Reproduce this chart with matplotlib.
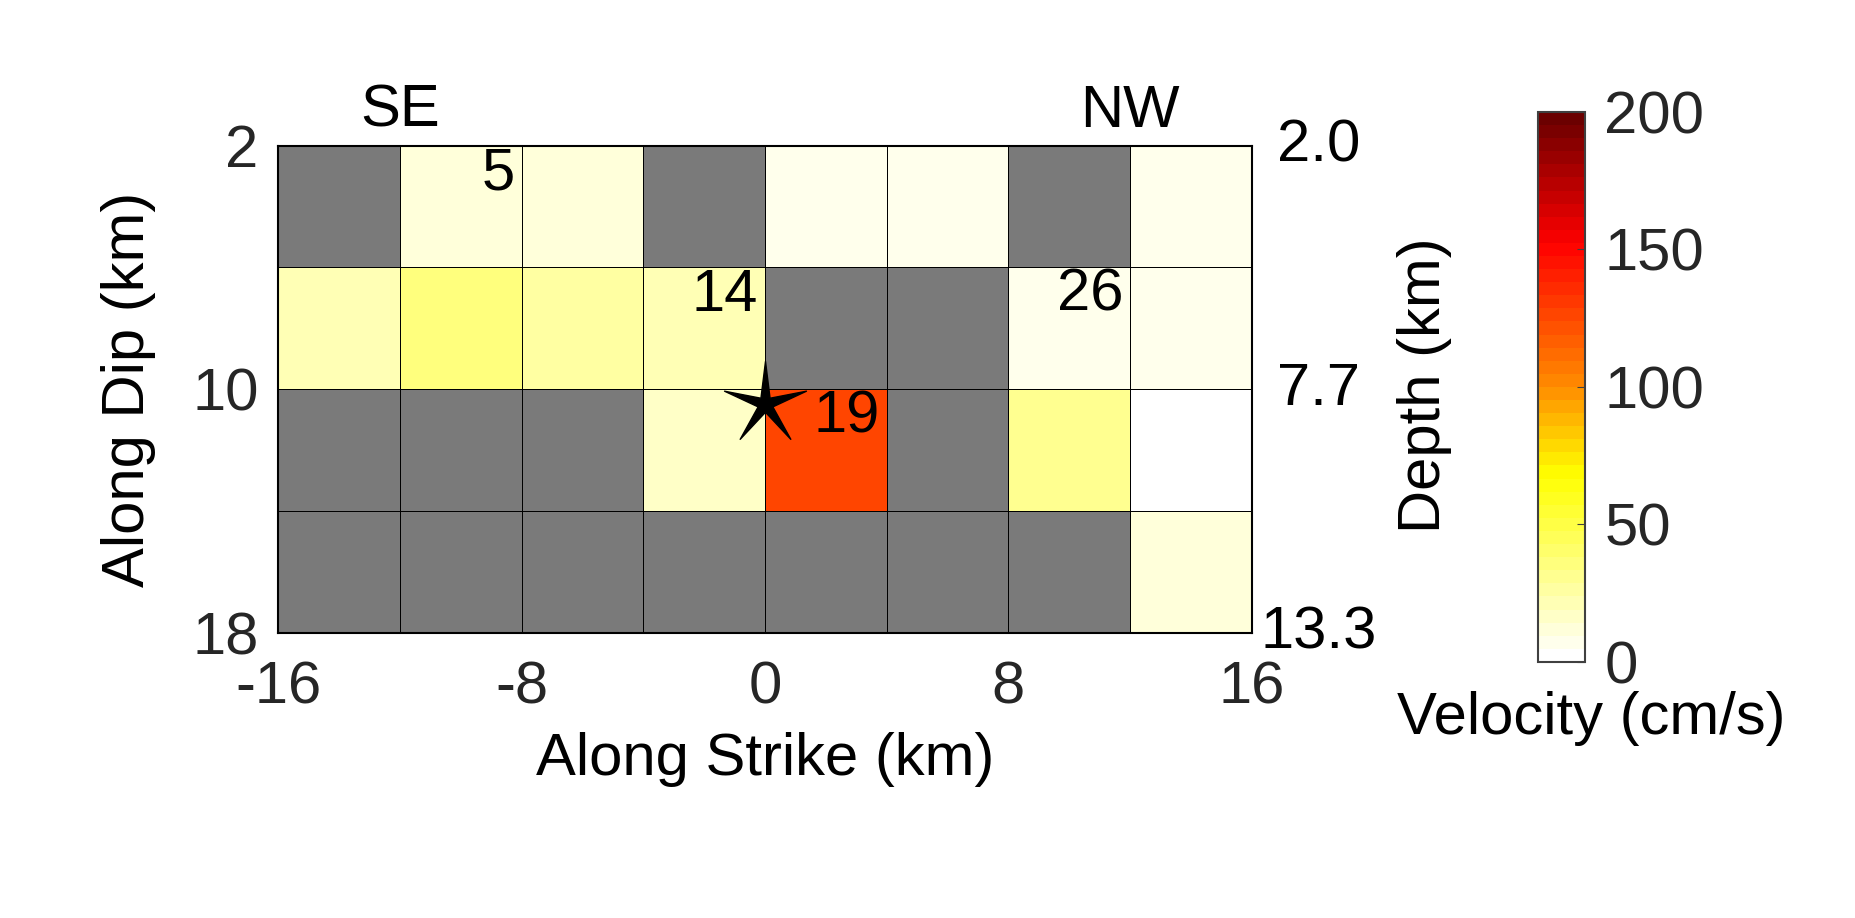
import numpy as np
import matplotlib
matplotlib.use('Agg')
import matplotlib.pyplot as plt
from matplotlib.colors import LinearSegmentedColormap
from matplotlib.path import Path

plt.rcParams['font.family'] = ['Liberation Sans', 'DejaVu Sans']

# grid edges (km)
x_edges = [-16, -12, -8, -4, 0, 4, 8, 12, 16]
y_edges = [2, 6, 10, 14, 18]

# peak velocity per subfault (cm/s), rows top->bottom, nan = no data
nan = np.nan
row0 = [nan, 11, 10, nan, 5, 5, nan, 6]
row1 = [23, 34, 27, 21, nan, nan, 5, 5]
row2 = [nan, nan, nan, 15, 127, nan, 30, 0]
row3 = [nan, nan, nan, nan, nan, nan, nan, 10]

# station labels inside cells: text, cell right edge, cell top
cell_labels = ['5', '14', '26', '19']
cell_right = [-8, 0, 12, 4]
cell_top = [2, 6, 6, 10]

# hypocentre
hypo_x = 0
hypo_y = 10.5

depth_ticks = [2, 10, 18]
depth_labels = ['2.0', '7.7', '13.3']

vals = np.ma.masked_invalid(np.array([row0, row1, row2, row3]))

cmap = LinearSegmentedColormap.from_list(
    'wyr', [(0, (1, 1, 1)), (0.335, (1, 1, 0)), (0.5, (1, 0.55, 0)),
            (0.765, (1, 0, 0)), (1, (0.42, 0, 0))], N=42)
cmap.set_bad((0.478, 0.478, 0.478))

fig = plt.figure(figsize=(18.55, 9.18), dpi=100)
ax = fig.add_axes([0.1499, 0.3105, 0.525, 0.531])

mesh = ax.pcolormesh(x_edges, y_edges, vals, cmap=cmap, vmin=0, vmax=200,
                     edgecolors='k', linewidth=0.7)
ax.set_xlim(-16, 16)
ax.set_ylim(18, 2)

fs = 43
tc = '#262626'
ax.set_xticks([-16, -8, 0, 8, 16])
ax.set_xticklabels(['-16', '-8', '0', '8', '16'])
ax.set_yticks([2, 10, 18])
ax.tick_params(length=0, labelsize=fs, labelcolor=tc)
ax.tick_params(axis='x', pad=20)
ax.tick_params(axis='y', pad=14)
for s in ax.spines.values():
    s.set_linewidth(1.5)

ax.set_xlabel('Along Strike (km)', fontsize=fs, labelpad=12)
ax.set_ylabel('Along Dip (km)', fontsize=fs, labelpad=26)

for t, xr, yt in zip(cell_labels, cell_right, cell_top):
    ax.text(xr - 0.22, yt + 0.92, t, fontsize=fs, ha='right', va='center')

# skinny five-point star
ang = np.pi / 2 + np.arange(10) * np.pi / 5
rad = np.where(np.arange(10) % 2 == 0, 1.0, 0.18)
verts = np.column_stack([rad * np.cos(ang), rad * np.sin(ang)])
verts = np.vstack([verts, verts[:1]])
star = Path(verts, closed=True)
ax.plot(hypo_x, hypo_y, marker=star, markersize=62, color='k',
        linestyle='none', clip_on=False)

# depth labels on the right
for yv, lab in zip(depth_ticks, depth_labels):
    ax.text(18.2, yv, lab, fontsize=fs, ha='center', va='center', clip_on=False)
ax.text(-12, 0.87, 'SE', fontsize=fs, ha='center', va='center')
ax.text(12, 0.87, 'NW', fontsize=fs, ha='center', va='center')
fig.text(1425 / 1855, 1 - 385 / 918, 'Depth (km)', fontsize=fs,
         rotation=90, ha='center', va='center')

cax = fig.add_axes([0.8291, 0.279, 0.0253, 0.599])
cb = fig.colorbar(mesh, cax=cax, ticks=[0, 50, 100, 150, 200])
cb.outline.set_edgecolor('#404040')
cb.outline.set_linewidth(1.5)
cax.tick_params(labelsize=fs, labelcolor=tc, length=6, direction='in',
                color='#404040', pad=14)
fig.text(1591 / 1855, 1 - 718 / 918, 'Velocity (cm/s)', fontsize=fs,
         ha='center', va='center')

fig.savefig('out.png', dpi=100, facecolor='white')
